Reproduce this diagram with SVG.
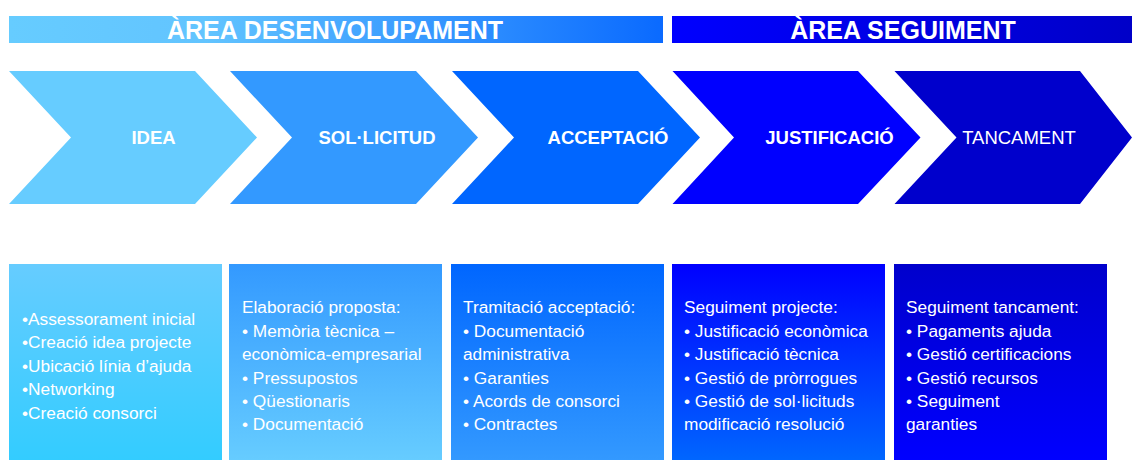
<svg xmlns="http://www.w3.org/2000/svg" width="1132" height="460" viewBox="0 0 1132 460">
  <defs>
    <linearGradient id="gBar1" x1="0" y1="0" x2="1" y2="0">
      <stop offset="0" stop-color="#66ccff"/>
      <stop offset="0.3" stop-color="#62c4ff"/>
      <stop offset="1" stop-color="#0a6aff"/>
    </linearGradient>
    <linearGradient id="gBar2" x1="0" y1="0" x2="1" y2="0">
      <stop offset="0" stop-color="#0000ff"/>
      <stop offset="1" stop-color="#0000c8"/>
    </linearGradient>
    <linearGradient id="gB1" x1="0" y1="0" x2="0" y2="1">
      <stop offset="0" stop-color="#66ccff"/>
      <stop offset="1" stop-color="#33ccff"/>
    </linearGradient>
    <linearGradient id="gB2" x1="0" y1="0" x2="0" y2="1">
      <stop offset="0" stop-color="#3399ff"/>
      <stop offset="1" stop-color="#66ccff"/>
    </linearGradient>
    <linearGradient id="gB3" x1="0" y1="0" x2="0" y2="1">
      <stop offset="0" stop-color="#0066ff"/>
      <stop offset="1" stop-color="#3399ff"/>
    </linearGradient>
    <linearGradient id="gB4" x1="0" y1="0" x2="0" y2="1">
      <stop offset="0" stop-color="#0000ff"/>
      <stop offset="1" stop-color="#0066ff"/>
    </linearGradient>
    <linearGradient id="gB5" x1="0" y1="0" x2="0" y2="1">
      <stop offset="0" stop-color="#0000cc"/>
      <stop offset="1" stop-color="#0000ff"/>
    </linearGradient>
  </defs>
  <style>
    .hdr { font-family: "Liberation Sans", Arial, sans-serif; font-weight: bold; font-size: 25px; fill: #ffffff; text-anchor: middle; }
    .lbl { font-family: "Liberation Sans", Arial, sans-serif; font-size: 18.5px; fill: #ffffff; text-anchor: middle; }
    .b { font-weight: bold; }
    .txt { font-family: "Liberation Sans", Arial, sans-serif; font-size: 17.3px; fill: #ffffff; }
  </style>
  <rect width="1132" height="460" fill="#ffffff"/>

  <g id="header-desenvolupament">
    <rect x="9" y="16" width="654" height="27" fill="url(#gBar1)"/>
    <text class="hdr" x="335" y="39">ÀREA DESENVOLUPAMENT</text>
  </g>
  <g id="header-seguiment">
    <rect x="672" y="16" width="460" height="27" fill="url(#gBar2)"/>
    <text class="hdr" x="903" y="39">ÀREA SEGUIMENT</text>
  </g>

  <g id="step-idea">
    <polygon points="9,71 195,71 257,137.5 195,204 9,204 71,137.5" fill="#66ccff"/>
    <text class="lbl b" x="153.5" y="144">IDEA</text>
  </g>
  <g id="step-sollicitud">
    <polygon points="230,71 416,71 478,137.5 416,204 230,204 292,137.5" fill="#3399ff"/>
    <text class="lbl b" x="377" y="144">SOL·LICITUD</text>
  </g>
  <g id="step-acceptacio">
    <polygon points="452,71 638,71 700,137.5 638,204 452,204 514,137.5" fill="#0066ff"/>
    <text class="lbl b" x="608" y="144">ACCEPTACIÓ</text>
  </g>
  <g id="step-justificacio">
    <polygon points="672.5,71 858,71 920.5,137.5 858,204 672.5,204 734,137.5" fill="#0000ff"/>
    <text class="lbl b" x="829.5" y="144">JUSTIFICACIÓ</text>
  </g>
  <g id="step-tancament">
    <polygon points="894.5,71 1080,71 1132,137.5 1080,204 894.5,204 956.5,137.5" fill="#0000cc"/>
    <text class="lbl" x="1019" y="144">TANCAMENT</text>
  </g>

  <g id="connectors"></g>

  <g id="box-idea">
    <rect x="9" y="264" width="213" height="196" fill="url(#gB1)"/>
    <text class="txt" x="22" y="325">•Assessorament inicial</text>
    <text class="txt" x="22" y="348">•Creació idea projecte</text>
    <text class="txt" x="22" y="372">•Ubicació línia d’ajuda</text>
    <text class="txt" x="22" y="395">•Networking</text>
    <text class="txt" x="22" y="419">•Creació consorci</text>
  </g>
  <g id="box-sollicitud">
    <rect x="229" y="264" width="213" height="196" fill="url(#gB2)"/>
    <text class="txt" x="242" y="313">Elaboració proposta:</text>
    <text class="txt" x="242" y="337">• Memòria tècnica –</text>
    <text class="txt" x="242" y="360">econòmica-empresarial</text>
    <text class="txt" x="242" y="384">• Pressupostos</text>
    <text class="txt" x="242" y="407">• Qüestionaris</text>
    <text class="txt" x="242" y="430">• Documentació</text>
  </g>
  <g id="box-acceptacio">
    <rect x="451" y="264" width="213" height="196" fill="url(#gB3)"/>
    <text class="txt" x="463" y="313">Tramitació acceptació:</text>
    <text class="txt" x="463" y="337">• Documentació</text>
    <text class="txt" x="463" y="360">administrativa</text>
    <text class="txt" x="463" y="384">• Garanties</text>
    <text class="txt" x="463" y="407">• Acords de consorci</text>
    <text class="txt" x="463" y="430">• Contractes</text>
  </g>
  <g id="box-justificacio">
    <rect x="672" y="264" width="213" height="196" fill="url(#gB4)"/>
    <text class="txt" x="684" y="313">Seguiment projecte:</text>
    <text class="txt" x="684" y="337">• Justificació econòmica</text>
    <text class="txt" x="684" y="360">• Justificació tècnica</text>
    <text class="txt" x="684" y="384">• Gestió de pròrrogues</text>
    <text class="txt" x="684" y="407">• Gestió de sol·licituds</text>
    <text class="txt" x="684" y="430">modificació resolució</text>
  </g>
  <g id="box-tancament">
    <rect x="894" y="264" width="213" height="196" fill="url(#gB5)"/>
    <text class="txt" x="906" y="313">Seguiment tancament:</text>
    <text class="txt" x="906" y="337">• Pagaments ajuda</text>
    <text class="txt" x="906" y="360">• Gestió certificacions</text>
    <text class="txt" x="906" y="384">• Gestió recursos</text>
    <text class="txt" x="906" y="407">• Seguiment</text>
    <text class="txt" x="906" y="430">garanties</text>
  </g>
</svg>
